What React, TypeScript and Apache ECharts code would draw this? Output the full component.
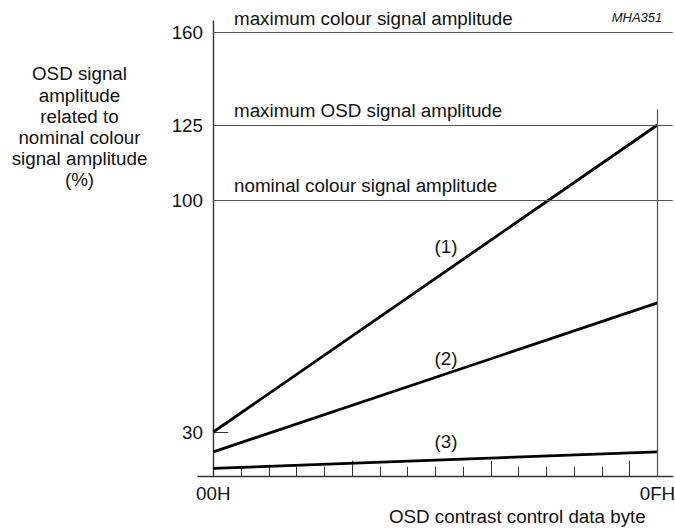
import React, { useEffect, useRef } from "react";
import * as echarts from "echarts";

// ---- data ----
const xLabelValues = [0, 16];
const xLabels = ["00H", "0FH"];
const xMinorTicks = [0, 1, 2, 3, 4, 5, 6, 7, 8, 9, 10, 11, 12, 13, 14, 15, 16];
const xMajorTicks = [5, 10, 15];

const yTickValues = [30, 100, 125, 160];

const line1 = [[0, 30], [16, 125]];
const line2 = [[0, 24], [16, 69]];
const line3 = [[0, 19], [16, 24]];
const lineNames = ["(1)", "(2)", "(3)"];

const refLevels = [160, 125, 100];
const refLabels = [
  "maximum colour signal amplitude",
  "maximum OSD signal amplitude",
  "nominal colour signal amplitude",
];
const endMarkerTop = 131; // top of the 0FH vertical line, in %

// schematic (non-linear) vertical scale as drawn in the figure
const scalePct = [0, 100, 125, 160];
const scaleLevel = [0, 100, 122.75, 150.64];

function yMap(v: number): number {
  const n = scalePct.length;
  for (let i = 0; i < n - 1; i++) {
    if (v <= scalePct[i + 1] || i === n - 2) {
      const t = (v - scalePct[i]) / (scalePct[i + 1] - scalePct[i]);
      return scaleLevel[i] + t * (scaleLevel[i + 1] - scaleLevel[i]);
    }
  }
  return v;
}

const X_MIN = -0.55;
const X_MAX = 16.55;
const Y_MIN = 16.5;
const Y_MAX = 154.17;

const FONT = "'Liberation Sans', Arial, Helvetica, sans-serif";
const FS = 18.8;

export default function App() {
  const ref = useRef<HTMLDivElement>(null);
  useEffect(() => {
    if (!ref.current) return;
    const chart = echarts.init(ref.current, undefined, { renderer: "svg" });
    const toXY = (d: number[][]) => d.map(([x, y]) => [x, yMap(y)]);
    const dataLine = (d: number[][], extra: any = {}) => ({
      type: "line",
      data: toXY(d),
      symbol: "none",
      silent: true,
      clip: false,
      lineStyle: { color: "#000", width: 2.8 },
      ...extra,
    });
    const textStyle = (t: string, x: number, y: number, align: string, extra: any = {}) => ({
      type: "text",
      x,
      y,
      silent: true,
      style: {
        text: t,
        fill: "#111",
        fontSize: FS,
        fontFamily: FONT,
        textAlign: align,
        align,
        textVerticalAlign: "middle",
        verticalAlign: "middle",
        ...extra,
      },
    });
    const refY = [18, 110.3, 185];
    const nameY = [246, 358.4, 441];

    chart.setOption({
      animation: false,
      backgroundColor: "#fff",
      grid: {
        left: 198,
        right: 2.3,
        top: 21,
        bottom: 51.3,
        containLabel: false,
        outerBoundsMode: "none",
      },
      xAxis: [
        {
          type: "value",
          min: X_MIN,
          max: X_MAX,
          position: "bottom",
          splitLine: { show: false },
          axisLine: { show: true, onZero: false, lineStyle: { color: "#333", width: 1.4 } },
          axisTick: {
            show: true,
            inside: true,
            length: 10,
            customValues: xMinorTicks,
            lineStyle: { color: "#333", width: 1 },
          },
          axisLabel: {
            show: true,
            customValues: xLabelValues,
            formatter: (v: number) => {
              const i = xLabelValues.findIndex((x) => Math.abs(x - v) < 1e-6);
              return i >= 0 ? xLabels[i] : "";
            },
            margin: 7,
            color: "#111",
            fontSize: FS,
            fontFamily: FONT,
          },
        },
        {
          type: "value",
          min: X_MIN,
          max: X_MAX,
          position: "bottom",
          offset: 0,
          splitLine: { show: false },
          axisLine: { show: false },
          axisTick: {
            show: true,
            inside: true,
            length: 16,
            customValues: xMajorTicks,
            lineStyle: { color: "#333", width: 1 },
          },
          axisLabel: { show: false },
        },
      ],
      yAxis: {
        type: "value",
        min: Y_MIN,
        max: Y_MAX,
        splitLine: { show: false },
        axisLine: { show: true, onZero: true, lineStyle: { color: "#333", width: 1.4 } },
        axisTick: {
          show: true,
          inside: true,
          length: 15,
          customValues: yTickValues.map(yMap),
          lineStyle: { color: "#333", width: 1 },
        },
        axisLabel: {
          show: true,
          customValues: yTickValues.map(yMap),
          formatter: (v: number) => {
            let best = 0;
            let bd = Infinity;
            yTickValues.forEach((t, i) => {
              const d = Math.abs(yMap(t) - v);
              if (d < bd) {
                bd = d;
                best = i;
              }
            });
            return String(yTickValues[best]);
          },
          margin: -5,
          color: "#111",
          fontSize: FS,
          fontFamily: FONT,
        },
      },
      series: [
        dataLine(line1, {
          markLine: {
            silent: true,
            symbol: "none",
            label: { show: false },
            lineStyle: { color: "#555", width: 1.2, type: "solid" },
            data: [
              ...refLevels.map((lv) => [
                { coord: [0, yMap(lv)] },
                { coord: [X_MAX, yMap(lv)] },
              ]),
              [
                { coord: [xLabelValues[1], Y_MIN] },
                { coord: [xLabelValues[1], yMap(endMarkerTop)] },
              ],
            ],
          },
        }),
        dataLine(line2),
        dataLine(line3),
      ],
      graphic: [
        ...refLabels.map((t, i) => textStyle(t, 234, refY[i], "left")),
        ...lineNames.map((t, i) => textStyle(t, 446, nameY[i], "center")),
        textStyle("MHA351", 662.3, 17, "right", { fontSize: 13, fontStyle: "italic" }),
        textStyle("OSD contrast control data byte", 645.7, 516.5, "right"),
        {
          type: "text",
          x: 79.5,
          y: 63.4,
          silent: true,
          style: {
            text: "OSD signal\namplitude\nrelated to\nnominal colour\nsignal amplitude\n(%)",
            fill: "#111",
            fontSize: FS,
            fontFamily: FONT,
            lineHeight: 21.2,
            textAlign: "center",
            align: "center",
            textVerticalAlign: "top",
            verticalAlign: "top",
          },
        },
      ],
    });
    return () => chart.dispose();
  }, []);
  return <div ref={ref} style={{ width: 675, height: 528, position: "absolute", left: 0, top: 0 }} />;
}
